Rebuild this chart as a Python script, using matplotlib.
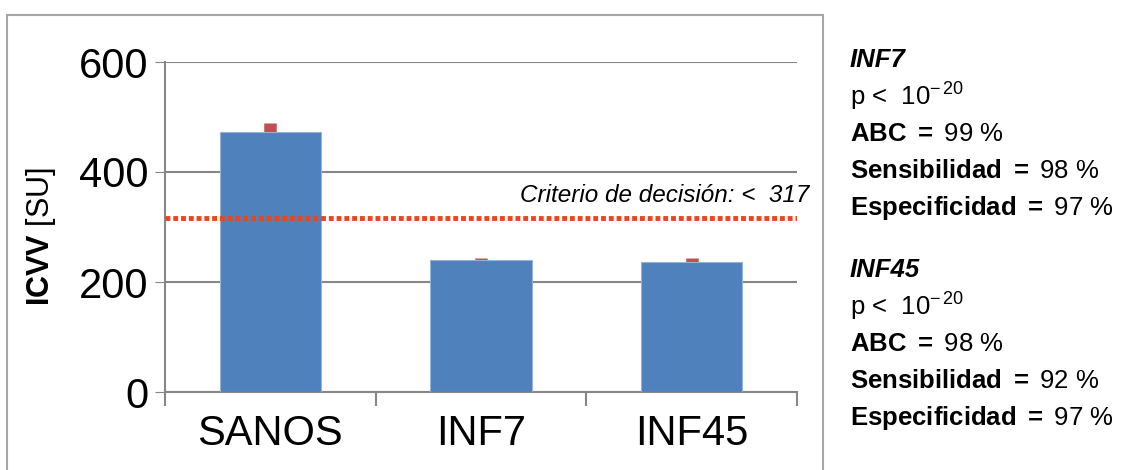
import numpy as np
import matplotlib
matplotlib.use("Agg")
import matplotlib.pyplot as plt
from matplotlib.patches import Rectangle

plt.rcParams['font.family'] = ['Liberation Sans', 'DejaVu Sans']
plt.rcParams['mathtext.fontset'] = 'custom'
plt.rcParams['mathtext.rm'] = 'Liberation Sans'
plt.rcParams['mathtext.bf'] = 'Liberation Sans:bold'
plt.rcParams['mathtext.it'] = 'Liberation Sans:italic'

# Datos
grupos = ['SANOS', 'INF7', 'INF45']
icvv = [472, 240, 237]
error_sup = [17, 4, 7]
criterio = 317
yticks = [0, 200, 400, 600]

bloques = [
    ('INF7', ['10', '99', '98', '97']),
    ('INF45', ['10', '98', '92', '97']),
]

fig = plt.figure(figsize=(11.23, 4.70), dpi=100)
fig.patches.append(Rectangle((7/1123, -0.05), (823-7)/1123, 1 - 15/470 + 0.05,
                             transform=fig.transFigure, fill=False,
                             edgecolor='#A6A6A6', lw=1.5))

ax = fig.add_axes([165/1123, 1-392/470, (797-165)/1123, (392-62)/470])
x = np.arange(len(grupos))
ax.bar(x, icvv, width=0.48, color='#4F81BD', edgecolor='#95B3D7', lw=0.8, zorder=3)
ax.errorbar(x, icvv, yerr=[np.zeros(3), error_sup], fmt='none',
            ecolor='#C0504D', elinewidth=9, capsize=0, zorder=2)
ax.axhline(criterio, color='#E8461E', lw=3.5, ls=(0, (1, 0.6)), zorder=4)
ax.text(2.56, criterio + 20, 'Criterio de decisión: <  317', ha='right', va='bottom',
        fontsize=17.5, style='italic', clip_on=False)

ax.set_xlim(-0.5, 2.5)
ax.set_ylim(0, 600)
ax.set_yticks(yticks)
ax.tick_params(axis='y', labelsize=30, length=7, color='#868686', pad=5)
ax.grid(axis='y', color='#868686', lw=1.5, zorder=0)
ax.set_xticks([-0.5, 0.5, 1.5, 2.5])
ax.set_xticklabels([])
ax.tick_params(axis='x', which='major', length=10, color='#868686', width=1.5)
ax.set_xticks(x, minor=True)
ax.set_xticklabels(grupos, minor=True)
ax.tick_params(axis='x', which='minor', length=0, labelsize=30, pad=16)
for s in ['top', 'right']:
    ax.spines[s].set_visible(False)
for s in ['left', 'bottom']:
    ax.spines[s].set_color('#868686')
    ax.spines[s].set_linewidth(1.5)
ax.set_ylabel(r'$\mathbf{ICVV}$ [SU]', fontsize=22)
ax.yaxis.set_label_coords(-0.17, 0.47)

# Texto de la derecha
y0 = 1 - 60/470
dy = 37/470
for k, (nombre, vals) in enumerate(bloques):
    yb = y0 - k * 5.68 * dy
    fig.text(850/1123, yb, nombre, fontsize=18.5, weight='bold', style='italic', va='center')
    fig.text(850/1123, yb - dy, r'p <  10$^{-\,20}$', fontsize=18.5, va='center')
    fig.text(850/1123, yb - 2*dy, r'$\mathbf{ABC\ =}$ ' + vals[1] + ' %', fontsize=18.5, va='center')
    fig.text(850/1123, yb - 3*dy, r'$\mathbf{Sensibilidad\ =}$ ' + vals[2] + ' %', fontsize=18.5, va='center')
    fig.text(850/1123, yb - 4*dy, r'$\mathbf{Especificidad\ =}$ ' + vals[3] + ' %', fontsize=18.5, va='center')

fig.savefig('out.png', dpi=100)
